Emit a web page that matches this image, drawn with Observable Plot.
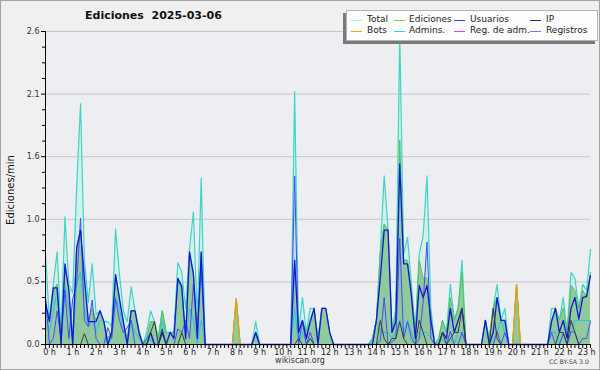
<!DOCTYPE html>
<html><head><meta charset="utf-8">
<script src="https://cdn.jsdelivr.net/npm/d3@7"></script>
<script src="https://cdn.jsdelivr.net/npm/@observablehq/plot@0.6"></script>
<style>
body{margin:0;background:#fff;}
#wrap{position:relative;width:600px;height:370px;background:#f0f0f0;overflow:hidden;font-family:"DejaVu Sans",sans-serif;color:#222;}
#chart{position:absolute;left:0;top:0;}
#border{position:absolute;left:0;top:0;width:598px;height:368px;border:1px solid #a4a4a4;pointer-events:none;}
.title{position:absolute;left:85px;top:9px;font-weight:bold;font-size:11px;white-space:pre;color:#111;}
.ylab{position:absolute;left:10px;top:190px;font-size:10px;transform:translate(-50%,-50%) rotate(-90deg);white-space:nowrap;color:#111;}
.foot{position:absolute;left:300px;top:356px;font-size:8px;transform:translateX(-50%);color:#333;}
.cc{position:absolute;left:549px;top:358px;font-size:6.2px;color:#444;white-space:nowrap;}
#legend{position:absolute;left:346px;top:10px;width:250px;height:29px;background:#fdfdfd;border:1px solid #b4b4b4;box-shadow:-3px 3px 0 #7a7a7a;}
.li{position:absolute;font-size:9px;white-space:nowrap;line-height:10px;color:#222;}
.ll{position:absolute;height:1px;}
</style></head>
<body>
<div id="wrap">
  <div id="chart"></div>
  <div class="title">Ediciones  2025-03-06</div>
  <div class="ylab">Ediciones/min</div>
  <div class="foot">wikiscan.org</div>
  <div class="cc">CC BY-SA 3.0</div>
  <div id="legend"></div>
  <div id="border"></div>
</div>
<script>
// 10-minute bins, minutes since 00:00
const binMinutes = d3.range(0, 1401, 10);
const hourTicks = d3.range(0, 1400, 60);
const yMajorTicks = [0, 0.52, 1.04, 1.56, 2.08, 2.6];
const yMinorTicks = [0.13,0.26,0.39,0.65,0.78,0.91,1.17,1.3,1.43,1.69,1.82,1.95,2.21,2.34,2.47];

const total = [
 .75,.20,.50,.77,.10,1.06,.50,.43,1.30,2.00,
 .70,.35,.67,.25,.28,.19,.19,.15,.96,.58,
 .28,.19,.48,.28,.12,0,.10,.28,.19,.05,
 .28,.10,.10,.10,.68,.60,.30,.80,1.10,.20,
 1.38,0,0,0,0,0,0,0,0,.38,
 0,0,0,0,.19,0,0,0,0,0,
 0,0,0,0,2.10,.10,.39,.10,.30,.30,
 .05,.30,.30,.10,0,0,0,0,0,0,
 0,0,0,0,.05,.20,.78,1.40,.95,.12,
 .30,2.58,.75,.89,.50,.10,.75,.90,1.40,.30,
 0,.05,.20,.10,.50,.20,.30,.70,0,0,
 0,0,0,.20,.05,.30,.50,.20,.30,0,
 0,.50,0,0,0,0,0,0,0,0,
 .30,.30,.20,.39,.10,.60,.55,.30,.50,.45,.79];
const ediciones = [
 .35,.20,.45,.50,.05,.62,.45,.05,.80,.95,
 .50,.20,.30,.20,.28,.19,.05,.10,.58,.38,
 .18,.05,.28,.28,.12,0,.05,.19,.19,.05,
 .28,.10,.10,.10,.55,.50,.10,.75,.60,.10,
 .75,0,0,0,0,0,0,0,0,.38,
 0,0,0,0,.10,0,0,0,0,0,
 0,0,0,0,.70,.10,.20,.10,.20,.30,
 .05,.30,.30,.10,0,0,0,0,0,0,
 0,0,0,0,.05,.20,.75,1.00,.95,.10,
 .25,1.70,.70,.70,.45,.10,.70,.55,.55,.25,
 0,.05,.20,.10,.39,.20,.30,.60,0,0,
 0,0,0,.20,.05,.30,.39,.20,.20,0,
 0,.50,0,0,0,0,0,0,0,0,
 .20,.30,.20,.30,.10,.49,.45,.30,.45,.40,.60];
const usuarios = [
 .35,.19,.47,.47,0,.67,.45,0,.80,.95,
 .55,.19,.19,.19,.28,.19,0,.10,.58,.38,
 .19,0,.28,.28,.10,0,0,.10,0,0,
 .10,0,.10,.05,.55,.48,.05,.77,.58,.05,
 .77,0,0,0,0,0,0,0,0,0,
 0,0,0,0,.10,0,0,0,0,0,
 0,0,0,0,.70,.10,.20,.05,.19,.30,
 0,.30,.30,.10,0,0,0,0,0,0,
 0,0,0,0,0,.20,.55,.95,.95,.10,
 .19,1.50,.67,.67,.40,.05,.49,.39,.49,.20,
 0,0,.10,.05,.30,.10,.20,.30,0,0,
 0,0,0,.20,0,.10,.39,.20,.20,0,
 0,0,0,0,0,0,0,0,0,0,
 .19,.30,.10,.20,.05,.30,.39,.21,.39,.40,.57];
const ip = [
 0,0,0,0,0,0,0,0,0,0,
 .09,0,0,0,0,0,0,0,0,0,
 0,0,0,0,0,0,0,.10,.19,0,
 .13,0,0,0,0,.10,0,0,0,0,
 0,0,0,0,0,0,0,0,0,0,
 0,0,0,0,0,0,0,0,0,0,
 0,0,0,0,0,.05,0,0,.05,0,
 0,0,0,0,0,0,0,0,0,0,
 0,0,0,0,0,0,.20,.05,0,.05,
 .05,.19,.05,0,0,0,.20,.10,0,0,
 0,0,.10,0,.05,.10,.10,.30,0,0,
 0,0,0,0,0,.30,.05,0,0,0,
 0,0,0,0,0,0,0,0,0,0,
 0,0,.10,.10,0,.20,.10,0,0,0,0];
const registros = [
 .40,0,.05,.28,.05,.45,.05,.38,.50,1.05,
 .20,.15,.37,.05,0,0,.14,.05,.38,.20,
 .10,.14,.20,0,0,0,.05,.09,0,0,
 0,0,0,0,.13,.10,.20,.05,.50,.10,
 .63,0,0,0,0,0,0,0,0,0,
 0,0,0,0,.09,0,0,0,0,0,
 0,0,0,0,1.40,0,.19,0,.10,0,
 0,0,0,0,0,0,0,0,0,0,
 0,0,0,0,0,0,.03,.39,0,.02,
 .05,.88,.05,.19,.05,0,.05,.35,.85,.05,
 0,0,0,0,.11,0,0,.10,0,0,
 0,0,0,0,0,0,.11,0,.10,0,
 0,0,0,0,0,0,0,0,0,0,
 .10,0,0,.09,0,.11,.10,0,.05,.05,.19];
const admins = [
 .30,.10,.28,.45,0,.48,.30,0,.50,.60,
 .30,.15,.20,.10,.20,.19,0,.05,.40,.30,
 .10,0,.20,.10,.05,0,0,.05,0,0,
 .19,.10,.10,.10,.55,.45,.05,.30,.20,0,
 .20,0,0,0,0,0,0,0,0,0,
 0,0,0,0,0,0,0,0,0,0,
 0,0,0,0,.30,0,.10,0,.05,0,
 0,0,0,0,0,0,0,0,0,0,
 0,0,0,0,.05,.20,.10,.10,.10,.05,
 .10,.20,.10,.20,.10,0,.05,.10,.10,.05,
 0,0,.05,0,.05,0,.10,.10,0,0,
 0,0,0,0,0,0,.10,.20,.10,0,
 0,0,0,0,0,0,0,0,0,0,
 .10,.10,0,.10,0,.10,.20,.20,.20,.20,.20];
const bots = [
 0,0,0,0,0,0,0,0,0,0, 0,0,0,0,0,0,0,0,0,0,
 0,0,0,0,0,0,0,0,0,0, 0,0,0,0,0,0,0,0,0,0,
 0,0,0,0,0,0,0,0,0,.38, 0,0,0,0,0,0,0,0,0,0,
 0,0,0,0,0,0,0,0,0,0, 0,0,0,0,0,0,0,0,0,0,
 0,0,0,0,0,0,0,0,0,0, 0,0,0,0,0,0,0,0,0,0,
 0,0,0,0,0,0,0,0,0,0, 0,0,0,0,0,0,0,0,0,0,
 0,.50,0,0,0,0,0,0,0,0, 0,0,0,0,0,0,0,0,0,0,0];

const legendNames = ["Total","Ediciones","Usuarios","IP","Bots","Admins.","Reg. de adm.","Registros"];
const legendColors = ["#a6eee6","#6fd06f","#3a3af2","#333333","#ff9f1a","#2fd2e6","#e040ee","#7474ff"];

const rows = binMinutes.map((m, i) => ({
  m, total: total[i], ed: ediciones[i], us: usuarios[i], ip: ip[i],
  reg: registros[i], adm: admins[i], bot: bots[i]
}));

const chart = Plot.plot({
  width: 600, height: 370,
  marginLeft: 45, marginRight: 10, marginTop: 31, marginBottom: 26,
  style: {background: "transparent", fontFamily: "DejaVu Sans, sans-serif", color: "#333"},
  x: {domain: [0, 1400], label: null},
  y: {domain: [0, 2.6], label: null},
  marks: [
    Plot.frame({fill: "#eceef1", stroke: null}),
    Plot.gridY(yMajorTicks, {stroke: "#c6c6c6", strokeOpacity: 1}),
    Plot.areaY(rows, {x: "m", y: "total", fill: "#c4eee8", fillOpacity: 0.6}),
    Plot.areaY(rows, {x: "m", y: "reg", fill: "#b8c0f6", fillOpacity: 0.35}),
    Plot.areaY(rows, {x: "m", y: "ed", fill: "#8ac592", fillOpacity: 0.9}),
    Plot.lineY(rows, {x: "m", y: "total", stroke: "#3cd6c6", strokeWidth: 1.2}),
    Plot.lineY(rows, {x: "m", y: "ed", stroke: "#55c255", strokeWidth: 1}),
    Plot.lineY(rows, {x: "m", y: "adm", stroke: "#22c6e8", strokeWidth: 1}),
    Plot.lineY(rows, {x: "m", y: "reg", stroke: "#4a4aff", strokeWidth: 1}),
    Plot.lineY(rows, {x: "m", y: "us", stroke: "#1414dc", strokeWidth: 1.3}),
    Plot.lineY(rows, {x: "m", y: "ip", stroke: "#3a3a3a", strokeWidth: 1}),
    Plot.lineY(rows, {x: "m", y: "bot", stroke: "#ff9900", strokeWidth: 1.2}),
    Plot.ruleY([0], {stroke: "#000"}),
    Plot.ruleX([0], {stroke: "#000"}),
    Plot.axisX(binMinutes, {tickSize: 4, tickFormat: () => "", stroke: "#000"}),
    Plot.axisX(hourTicks, {tickSize: 0, tickPadding: 5, fontSize: 8, dx: 4, fill: "#222", tickFormat: d => `${d / 60} h`}),
    Plot.axisY(yMinorTicks, {tickSize: 3, tickFormat: () => "", stroke: "#000"}),
    Plot.axisY(yMajorTicks, {tickSize: 4, tickPadding: 2, fontSize: 8, fill: "#333", stroke: "#000", tickFormat: d => d.toFixed(1)})
  ]
});
document.getElementById("chart").appendChild(chart);

// legend
const lg = document.getElementById("legend");
const colLine = [4, 47, 107, 183];
const colText = [20, 62, 123, 199];
const rowTop = [3, 14];
legendNames.forEach((name, i) => {
  const r = Math.floor(i / 4), c = i % 4;
  const line = document.createElement("div");
  line.className = "ll";
  line.style.left = colLine[c] + "px";
  line.style.top = (rowTop[r] + 6) + "px";
  line.style.width = "11px";
  line.style.background = legendColors[i];
  lg.appendChild(line);
  const t = document.createElement("div");
  t.className = "li";
  t.style.left = colText[c] + "px";
  t.style.top = rowTop[r] + "px";
  t.textContent = name;
  lg.appendChild(t);
});
</script>
</body></html>
